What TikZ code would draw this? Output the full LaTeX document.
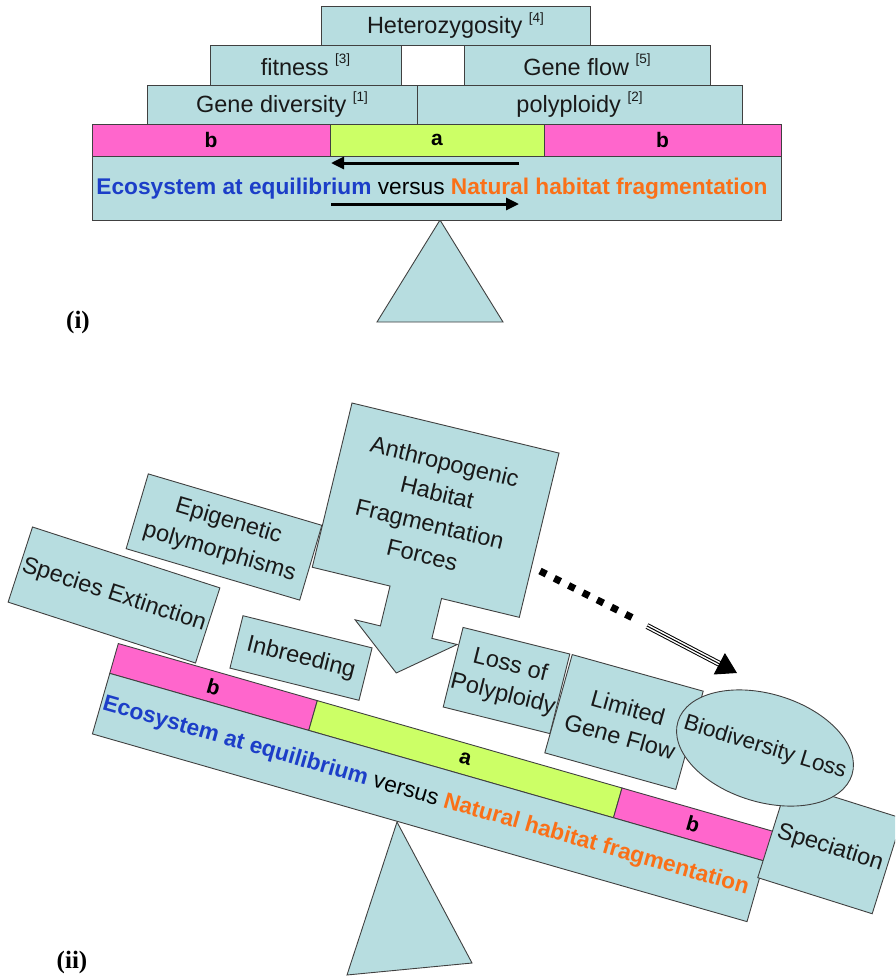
\documentclass[tikz,border=0pt]{standalone}
\usepackage{fontspec}
\setmainfont{Liberation Sans}
\newfontfamily\labserif{Liberation Serif}
\usetikzlibrary{shapes.geometric,arrows.meta,calc}
\definecolor{boxc}{RGB}{183,221,224}
\definecolor{pinkc}{RGB}{255,102,204}
\definecolor{limec}{RGB}{204,255,102}
\definecolor{bluet}{RGB}{28,62,200}
\definecolor{oranget}{RGB}{250,112,24}
\definecolor{edgec}{RGB}{64,64,64}
\newcommand{\refmark}[1]{\raisebox{0.5em}{\fontsize{13.5}{14}\selectfont[#1]}}
\newcommand{\beamtext}{\textcolor{bluet}{\bfseries Ecosystem at equilibrium} versus \textcolor{oranget}{\bfseries Natural habitat fragmentation}}
\tikzset{
  bx/.style={draw=edgec, fill=boxc, line width=0.9pt, inner sep=0pt, align=center, text=black!90, font=\fontsize{23.5}{30}\selectfont},
  pinkbar/.style={draw=edgec, fill=pinkc, line width=0.9pt, inner sep=0pt, font=\bfseries\fontsize{21}{21}\selectfont},
  limebar/.style={pinkbar, fill=limec},
  shp/.style={draw=edgec, fill=boxc, line width=0.9pt},
  beamlabel/.style={inner sep=0pt, font=\fontsize{22.7}{24}\selectfont},
  panel/.style={inner sep=0pt},
  fatarrow/.style={line width=3pt, -{Triangle[length=13pt,width=12pt]}},
}
\begin{document}
\begin{tikzpicture}[x=1pt,y=-1pt]
\clip (0,0) rectangle (895,977);
% ---------- panel (i) ----------
\node[bx, minimum width=269pt, minimum height=39pt] (het) at (455.5,25.5) {Heterozygosity \refmark{4}};
\node[bx, minimum width=191pt, minimum height=40pt] (fit) at (305.5,65) {fitness \refmark{3}};
\node[bx, minimum width=246pt, minimum height=40pt] (gfl) at (587,65) {Gene flow \refmark{5}};
\node[bx, minimum width=270pt, minimum height=39pt] (gdv) at (282,104.5) {Gene diversity \refmark{1}};
\node[bx, minimum width=325pt, minimum height=39pt] (ppl) at (579.5,104.5) {polyploidy \refmark{2}};
\node[pinkbar, minimum width=238pt, minimum height=32pt] (tb1) at (211,140) {b};
\node[limebar, minimum width=214pt, minimum height=32pt] (ta) at (437,140) {a};
\node[pinkbar, minimum width=237pt, minimum height=32pt] (tb2) at (662.5,140) {b};
\draw[shp] (440,220) -- (503,322) -- (377,322) -- cycle;
\node[shp, inner sep=0pt, minimum width=689pt, minimum height=64pt] (tbeam) at (436.5,188) {};
\node[beamlabel] (tbt) at (432,189) {\beamtext};
\coordinate (al1) at (519,163);
\coordinate (al2) at (331,163);
\coordinate (ar1) at (331,204);
\coordinate (ar2) at (519,204);
\draw[fatarrow] (al1) -- (al2);
\draw[fatarrow] (ar1) -- (ar2);
\node[panel] (lab1) at (78,322) {\labserif\bfseries\fontsize{25}{25}\selectfont (i)};
% ---------- panel (ii) ----------
\node[bx, minimum width=197pt, minimum height=79pt, rotate=-18] (spx) at (114,595) {Species Extinction};
\node[bx, minimum width=181pt, minimum height=78pt, rotate=-16.5] (epi) at (224,537) {Epigenetic\\[2pt]polymorphisms};
\node[bx, minimum width=133pt, minimum height=54pt, rotate=-14] (inb) at (301,658) {Inbreeding};
\draw[shp] (397,822) -- (472,963) -- (347,975) -- cycle;
\begin{scope}[shift={(118,643)}, rotate=-16, transform shape]
\node[pinkbar, minimum width=207pt, minimum height=31pt, anchor=north west] (lb1) at (0,0) {b};
\node[limebar, minimum width=317pt, minimum height=31pt, anchor=north west] (la) at (207,0) {a};
\node[pinkbar, minimum width=157pt, minimum height=31pt, anchor=north west] (lb2) at (524,0) {b};
\node[shp, inner sep=0pt, minimum width=681pt, minimum height=63pt, anchor=north west] (lbeam) at (0,31) {};
\node[beamlabel] (lbt) at (338,62.5) {\beamtext};
\end{scope}
\begin{scope}[shift={(352,403)}, rotate=-13.6]
\draw[shp] (0,0) -- (213,0) -- (213,169) -- (133,169) -- (133,210) -- (159,210) -- (106.5,252) -- (54,210) -- (80,210) -- (80,169) -- (0,169) -- cycle;
\node[bx, draw=none, fill=none, rotate=-13.6] (ahf) at (104,83) {Anthropogenic\\[2pt]Habitat\\[2pt]Fragmentation\\[2pt]Forces};
\end{scope}
\node[bx, minimum width=110pt, minimum height=82pt, rotate=-14] (lop) at (506.5,680.5) {Loss of\\Polyploidy};
\node[bx, minimum width=136pt, minimum height=102pt, rotate=-15.6] (lgf) at (624,722) {Limited\\Gene Flow};
\node[bx, minimum width=120pt, minimum height=100pt, rotate=-17.5] (spc) at (830,848) {Speciation};
\node[bx, ellipse, minimum width=182pt, minimum height=108pt, rotate=-17, font=\fontsize{22.5}{26}\selectfont] (bio) at (765,748) {\makebox[0pt]{Biodiversity Loss}};
% dotted / triple arrow
\coordinate (d1) at (540,571);
\coordinate (d2) at (633,618);
\coordinate (t1) at (647,626);
\coordinate (tip) at (737,673);
\draw[line width=7pt, dash pattern=on 7pt off 9pt] (d1) -- (d2);
\draw[line width=1pt, double=white, double distance=4pt, shorten >=19pt] (t1) -- (tip);
\draw[line width=1pt, -{Triangle[length=20pt,width=24pt]}] (t1) -- (tip);
\node[panel] (lab2) at (72,962) {\labserif\bfseries\fontsize{25}{25}\selectfont (ii)};
\end{tikzpicture}
\end{document}
